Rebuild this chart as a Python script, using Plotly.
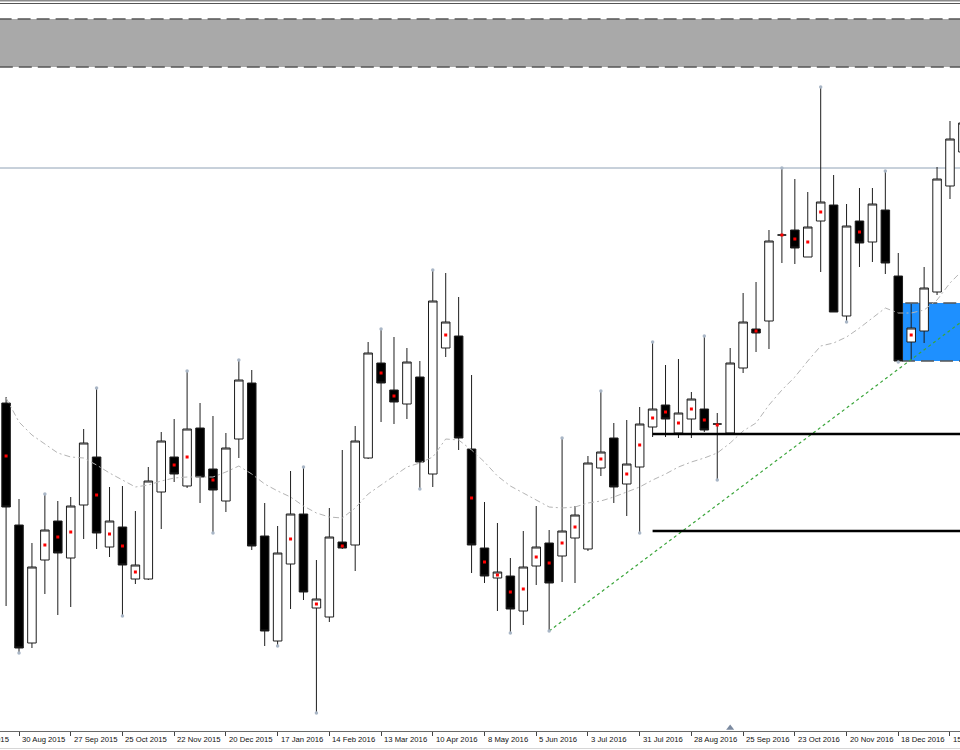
import plotly.graph_objects as go
import pandas as pd

# ---------------- data (weekly candles, arbitrary price units) ----------------
week_start = "2015-08-23"
n_weeks = 75
dates = pd.date_range(week_start, periods=n_weeks, freq="7D")

open_ = [397, 275, 157, 240, 279, 242, 295, 343, 253, 273,
         221, 221, 308, 343, 314, 372, 331, 299, 361, 417,
         264, 159, 236, 286, 192, 183, 258, 255, 342, 437,
         410, 396, 423, 326, 452, 464, 351, 252, 222, 224,
         189, 234, 257, 244, 262, 251, 332, 362, 316, 333,
         373, 395, 367, 381, 391, 376, 367, 432, 471, 479,
         565, 570, 543, 579, 595, 484, 579, 558, 590, 524,
         458, 469, 508, 614, 648]
high = [403, 301, 257, 306, 299, 303, 371, 412, 313, 314,
        289, 333, 368, 381, 429, 397, 384, 367, 440, 430,
        297, 274, 329, 333, 240, 292, 350, 374, 458, 471,
        463, 452, 439, 530, 527, 503, 425, 298, 277, 242,
        269, 294, 270, 362, 294, 344, 409, 377, 380, 393,
        458, 435, 441, 408, 464, 387, 452, 507, 518, 570,
        632, 621, 608, 713, 625, 596, 612, 612, 629, 547,
        496, 533, 633, 679, 685]
low = [194, 147, 152, 206, 185, 193, 261, 251, 243, 184,
       216, 220, 271, 318, 312, 297, 267, 288, 342, 250,
       154, 154, 191, 200, 87, 178, 251, 229, 341, 378,
       376, 381, 311, 313, 443, 350, 227, 217, 189, 167,
       175, 215, 169, 218, 217, 249, 324, 297, 284, 267,
       363, 363, 362, 362, 368, 320, 367, 427, 448, 451,
       537, 536, 543, 528, 488, 478, 533, 538, 526, 438,
       440, 457, 505, 601, 640]
close = [293, 152, 233, 270, 247, 294, 357, 267, 279, 235,
         235, 319, 359, 326, 371, 323, 310, 352, 420, 254,
         169, 247, 286, 208, 201, 263, 252, 359, 447, 417,
         398, 438, 338, 499, 478, 362, 255, 224, 228, 191,
         233, 253, 217, 269, 285, 337, 348, 313, 336, 376,
         391, 381, 387, 401, 370, 376, 437, 478, 467, 559,
         565, 552, 573, 598, 488, 574, 557, 596, 537, 439,
         472, 512, 621, 661, 677]

# moving average (one value per candle)
ma_vals = [402, 378, 365, 356, 347, 343, 342, 335, 327, 320,
           313, 315, 319, 322, 323, 323, 323, 328, 334, 326,
           316, 309, 303, 294, 287, 283, 282, 292, 306, 315,
           324, 333, 337, 343, 361, 360, 350, 338, 324, 314,
           307, 300, 293, 292, 293, 297, 299, 303, 308, 313,
           320, 326, 333, 338, 342, 347, 357, 369, 377, 395,
           410, 423, 439, 454, 457, 463, 472, 482, 492, 487,
           487, 490, 500, 517, 530]

# red marks (candle index, value)
red_idx = [0, 3, 4, 5, 7, 8, 9, 10, 13, 14, 16, 22, 24, 26, 29, 30, 34, 36, 37, 38,
           39, 40, 41, 42, 43, 44, 46, 48, 49, 50, 51, 52, 53, 54, 55, 58, 60, 61, 62, 63,
           66, 70]
red_val = [344, 255, 263, 268, 305, 266, 254, 228, 335, 343, 320, 261, 196, 254, 427, 404,
           465, 302, 238, 225, 208, 211, 243, 237, 257, 273, 341, 326, 355, 382, 388, 377,
           391, 380, 375, 469, 565, 561, 558, 588, 568, 465]

# fractal markers
frac_up_idx = [3, 7, 14, 18, 23, 29, 33, 43, 46, 50, 54, 60, 63, 68]
frac_dn_idx = [1, 9, 16, 21, 24, 32, 39, 42, 49, 55, 65, 69]

# drawn objects
resistance_level = 632
support_levels = [366, 269]
support_start = "2016-08-07"
grey_zone = [733, 781]
blue_zone = [439, 497]
blue_zone_start = "2016-12-20"
trend_dates = ["2016-06-12", "2017-01-29"]
trend_vals = [169, 489]
marker_date = "2016-09-18"

tick_dates = ["2015-08-02", "2015-08-30", "2015-09-27", "2015-10-25", "2015-11-22",
              "2015-12-20", "2016-01-17", "2016-02-14", "2016-03-13", "2016-04-10",
              "2016-05-08", "2016-06-05", "2016-07-03", "2016-07-31", "2016-08-28",
              "2016-09-25", "2016-10-23", "2016-11-20", "2016-12-18", "2017-01-15"]
tick_labels = ["2 Aug 2015", "30 Aug 2015", "27 Sep 2015", "25 Oct 2015", "22 Nov 2015",
               "20 Dec 2015", "17 Jan 2016", "14 Feb 2016", "13 Mar 2016", "10 Apr 2016",
               "8 May 2016", "5 Jun 2016", "3 Jul 2016", "31 Jul 2016", "28 Aug 2016",
               "25 Sep 2016", "23 Oct 2016", "20 Nov 2016", "18 Dec 2016", "15 Jan 2017"]

x_range = ["2015-08-19 17:00", "2017-01-20 10:00"]
y_range = [69, 800]

# ---------------- figure ----------------
fig = go.Figure()

fig.add_trace(go.Scatter(
    x=dates, y=ma_vals, mode="lines",
    line=dict(color="#b4b4b4", width=1, dash="6px,3px,2px,3px"),
    hoverinfo="skip", showlegend=False))

fig.add_trace(go.Scatter(
    x=trend_dates, y=trend_vals, mode="lines",
    line=dict(color="#3aa53a", width=1.2, dash="3px,3px"),
    hoverinfo="skip", showlegend=False))

fig.add_trace(go.Candlestick(
    x=dates, open=open_, high=high, low=low, close=close,
    increasing=dict(line=dict(color="#1e1e1e", width=1), fillcolor="#ffffff"),
    decreasing=dict(line=dict(color="#1e1e1e", width=1), fillcolor="#000000"),
    whiskerwidth=0, hoverinfo="skip", showlegend=False))

fig.add_trace(go.Scatter(
    x=[dates[i] for i in frac_up_idx] + [dates[i] for i in frac_dn_idx],
    y=[high[i] for i in frac_up_idx] + [low[i] for i in frac_dn_idx],
    mode="markers", marker=dict(symbol="circle", size=3.5, color="#a9b6c6"),
    hoverinfo="skip", showlegend=False))

fig.add_trace(go.Scatter(
    x=[dates[i] for i in red_idx], y=red_val, mode="markers",
    marker=dict(symbol="square", size=3, color="#ff0000"),
    hoverinfo="skip", showlegend=False))

fig.add_trace(go.Scatter(
    x=[marker_date], y=[y_range[0] + 3], mode="markers",
    marker=dict(symbol="triangle-up", size=7, color="#7b8aa0"),
    cliponaxis=False, hoverinfo="skip", showlegend=False))

shapes = []
# grey band at the top
shapes.append(dict(type="rect", xref="paper", yref="y", x0=-0.02, x1=1.02,
                   y0=grey_zone[0], y1=grey_zone[1], fillcolor="#a9a9a9",
                   line=dict(color="#555555", width=1.5, dash="13px,6px"), layer="below"))
# blue zone
shapes.append(dict(type="rect", xref="x", yref="y", x0=blue_zone_start, x1="2017-03-01",
                   y0=blue_zone[0], y1=blue_zone[1], fillcolor="#1e90ff",
                   line=dict(color="#555555", width=1.5, dash="13px,6px"), layer="below"))
# resistance line
shapes.append(dict(type="line", xref="paper", yref="y", x0=0, x1=1,
                   y0=resistance_level, y1=resistance_level,
                   line=dict(color="#90a2b6", width=1), layer="below"))
# support lines
for lv in support_levels:
    shapes.append(dict(type="line", xref="x", yref="y", x0=support_start, x1="2017-03-01",
                       y0=lv, y1=lv, line=dict(color="#000000", width=2.6), layer="above"))
# window border top / bottom
shapes.append(dict(type="rect", xref="paper", yref="paper", x0=0, x1=1,
                   y0=1 - 1.6 / 731, y1=1, fillcolor="#8a8a8a", line=dict(width=0)))
shapes.append(dict(type="line", xref="paper", yref="paper", x0=0, x1=1,
                   y0=1 - 3.5 / 731, y1=1 - 3.5 / 731, line=dict(color="#555555", width=1)))
shapes.append(dict(type="line", xref="paper", yref="paper", x0=0, x1=1,
                   y0=-17.5 / 731, y1=-17.5 / 731, line=dict(color="#d6d6d6", width=1)))

# tick labels as left-aligned annotations (positions derived from the axis range)
r0 = pd.Timestamp(x_range[0])
r1 = pd.Timestamp(x_range[1])
annotations = []
for d, t in zip(tick_dates, tick_labels):
    frac = (pd.Timestamp(d) - r0) / (r1 - r0)
    annotations.append(dict(x=frac, y=0, xref="paper", yref="paper", text=t, showarrow=False,
                            xanchor="left", yanchor="top", xshift=1, yshift=-2,
                            font=dict(family="Liberation Sans, Arial, sans-serif",
                                      size=7.7, color="#111111")))

fig.update_layout(
    width=960, height=750,
    margin=dict(l=0, r=0, t=0, b=19),
    paper_bgcolor="#ffffff", plot_bgcolor="#ffffff",
    shapes=shapes, annotations=annotations,
    boxgap=0.34, boxgroupgap=0,
    showlegend=False,
    xaxis=dict(type="date", range=x_range, rangeslider=dict(visible=False),
               showgrid=False, zeroline=False, showline=True, linecolor="#6a6a6a",
               linewidth=1, ticks="outside", ticklen=4, tickcolor="#444444",
               tickvals=tick_dates, showticklabels=False, fixedrange=True),
    yaxis=dict(range=y_range, visible=False, showgrid=False, zeroline=False,
               fixedrange=True),
)

fig.write_html("out.html",
               config={"displayModeBar": False, "staticPlot": True},
               post_script="document.body.style.margin='0';document.body.style.overflow='hidden';")
